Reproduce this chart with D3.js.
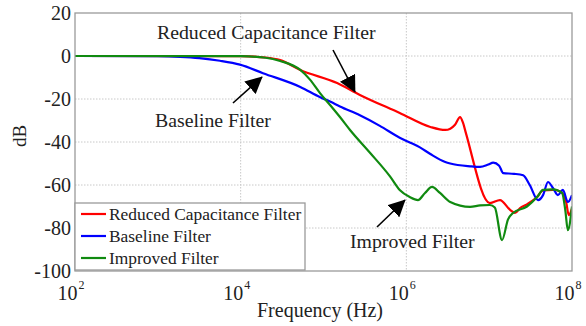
<!DOCTYPE html>
<html>
<head>
<meta charset="utf-8">
<script src="https://cdn.jsdelivr.net/npm/d3@7"></script>
<style>
  html, body { margin: 0; padding: 0; background: #fff; }
  svg { display: block; }
  text { font-family: "Liberation Serif", "Times New Roman", serif; fill: #222; }
</style>
</head>
<body>
<svg id="chart" width="586" height="326"></svg>
<script>
// Frequency response of three EMI filter designs (Hz, dB)
const reducedFreq = [1e2, 1e4, 2e4, 3e4, 5.25e4, 1.46e5, 2.75e5, 8.32e5, 1.95e6, 2.95e6, 3.39e6, 3.87e6, 4.45e6, 4.83e6, 5.25e6, 1.02e7, 1.35e7, 1.79e7, 2.05e7, 2.36e7, 2.86e7, 3.79e7, 4.47e7, 5.89e7, 7.24e7, 8.51e7, 9.12e7, 1e8];
const reducedDb   = [0, -0.1, -0.7, -1.9, -6.5, -12.6, -18.1, -26.5, -33, -34.4, -33.8, -32, -28.4, -31, -36, -68.4, -67, -71.6, -73, -70.7, -69, -65.6, -62.5, -62.3, -63, -68, -74, -71];

const baselineFreq = [1e2, 1e3, 1.86e3, 3.16e3, 5.62e3, 9.8e3, 1.86e4, 5.25e4, 9.12e4, 1.2e5, 1.58e5, 2.75e5, 4.79e5, 8.32e5, 1.1e6, 1.46e6, 1.95e6, 2.95e6, 3.39e6, 5.89e6, 7.76e6, 9.77e6, 1.12e7, 1.32e7, 1.48e7, 2.0e7, 2.57e7, 3.09e7, 3.89e7, 4.47e7, 5.13e7, 5.89e7, 6.76e7, 7.76e7, 8.91e7, 1e8];
const baselineDb   = [0, -0.1, -0.4, -1.0, -2.2, -4.0, -8.0, -14.4, -19.2, -21.2, -23.5, -27.6, -32.5, -38, -40.2, -42.5, -45.6, -49.3, -50, -51.3, -51.6, -50.5, -49.6, -51, -54.5, -54.8, -55.5, -60, -67, -64.7, -58.6, -61.4, -64.7, -62.3, -67.9, -64.7];

const improvedFreq = [1e2, 1e4, 2e4, 3e4, 5.25e4, 6.87e4, 9.12e4, 1.2e5, 1.58e5, 2.09e5, 3.64e5, 6.35e5, 8.32e5, 1.1e6, 1.38e6, 1.68e6, 2.04e6, 2.55e6, 3.39e6, 5.89e6, 7.76e6, 1.02e7, 1.17e7, 1.43e7, 1.69e7, 1.94e7, 2.86e7, 3.79e7, 4.47e7, 5.89e7, 7.59e7, 8.32e7, 8.91e7, 1e8];
const improvedDb   = [0, -0.1, -0.8, -2.3, -6.5, -11, -17.4, -22.8, -28.4, -34.4, -45, -56, -62.3, -65.6, -67, -63.7, -60.9, -63.7, -67.9, -70.2, -69.5, -69.3, -70.5, -85.6, -76, -73, -70, -65.6, -62.3, -62, -63.7, -72, -81, -70];

const seriesNames  = ["Reduced Capacitance Filter", "Baseline Filter", "Improved Filter"];
const seriesColors = ["#ff0000", "#0000ff", "#108a10"];

const xTickExps = [2, 4, 6, 8];
const yTicks = [-100, -80, -60, -40, -20, 0, 20];

const series = [
  { name: seriesNames[0], color: seriesColors[0], f: reducedFreq,  db: reducedDb },
  { name: seriesNames[1], color: seriesColors[1], f: baselineFreq, db: baselineDb },
  { name: seriesNames[2], color: seriesColors[2], f: improvedFreq, db: improvedDb }
];

const svg = d3.select("#chart");
const L = 75, R = 572, T = 13, B = 271;

const x = d3.scaleLog().domain([1e2, 1e8]).range([L, R]);
const y = d3.scaleLinear().domain([-100, 20]).range([B, T]);

// grid
const grid = svg.append("g");
grid.selectAll("line.gy").data(yTicks.filter(v => v > -100 && v < 20)).join("line")
  .attr("x1", L).attr("x2", R).attr("y1", d => y(d)).attr("y2", d => y(d))
  .attr("stroke", "#c8c8c8").attr("stroke-width", 1).attr("stroke-dasharray", "1.5,1.5");
grid.selectAll("line.gx").data(xTickExps.slice(1, -1)).join("line")
  .attr("x1", d => x(Math.pow(10, d))).attr("x2", d => x(Math.pow(10, d)))
  .attr("y1", T).attr("y2", B)
  .attr("stroke", "#c8c8c8").attr("stroke-width", 1).attr("stroke-dasharray", "1.5,1.5");

// curves
svg.append("clipPath").attr("id", "plotClip").append("rect")
  .attr("x", L).attr("y", T).attr("width", R - L).attr("height", B - T);

const line = d3.line()
  .x(d => x(d[0])).y(d => y(d[1]))
  .curve(d3.curveMonotoneX);

svg.append("g").attr("clip-path", "url(#plotClip)")
  .selectAll("path").data(series).join("path")
  .attr("d", s => line(s.f.map((f, i) => [f, s.db[i]])))
  .attr("fill", "none")
  .attr("stroke", s => s.color)
  .attr("stroke-width", 2.2)
  .attr("stroke-linejoin", "round");

// frame
svg.append("rect").attr("x", L).attr("y", T).attr("width", R - L).attr("height", B - T)
  .attr("fill", "none").attr("stroke", "#9a9a9a").attr("stroke-width", 1.3);

// y axis labels
svg.append("g").selectAll("text").data(yTicks).join("text")
  .attr("x", L - 4).attr("y", d => y(d) + 7)
  .attr("text-anchor", "end").attr("font-size", 20)
  .text(d => d);

// x axis labels: 10 with superscript exponent
const xl = svg.append("g").selectAll("text").data(xTickExps).join("text")
  .attr("x", d => x(Math.pow(10, d)) - 4).attr("y", 300)
  .attr("text-anchor", "middle").attr("font-size", 20);
xl.append("tspan").text("10");
xl.append("tspan").attr("font-size", 12).attr("dy", -11).attr("dx", 1).text(d => d);

// axis titles
svg.append("text").attr("x", 320).attr("y", 317).attr("text-anchor", "middle")
  .attr("font-size", 20).text("Frequency (Hz)");
svg.append("text").attr("transform", "translate(26,136) rotate(-90)")
  .attr("text-anchor", "middle").attr("font-size", 19).text("dB");

// legend
const lg = svg.append("g");
lg.append("rect").attr("x", L).attr("y", 203).attr("width", 230).attr("height", 67)
  .attr("fill", "#fff").attr("stroke", "#9a9a9a").attr("stroke-width", 1.3);
const rows = lg.selectAll("g.row").data(series).join("g")
  .attr("transform", (d, i) => `translate(0,${214 + i * 22})`);
rows.append("line").attr("x1", 81).attr("x2", 106).attr("y1", 0).attr("y2", 0)
  .attr("stroke", d => d.color).attr("stroke-width", 2.2);
rows.append("text").attr("x", 109).attr("y", 5.5).attr("font-size", 17.4).text(d => d.name);

// annotations with arrows
svg.append("defs").append("marker")
  .attr("id", "head").attr("viewBox", "0 0 10 10").attr("refX", 9.5).attr("refY", 5)
  .attr("markerWidth", 17).attr("markerHeight", 17).attr("markerUnits", "userSpaceOnUse")
  .attr("orient", "auto")
  .append("path").attr("d", "M0,0 L10,5 L0,10 Z").attr("fill", "#000");

const notes = [
  { text: seriesNames[0], tx: 157, ty: 39, x1: 333, y1: 50, x2: 355, y2: 92 },
  { text: seriesNames[1], tx: 155, ty: 127, x1: 233, y1: 103, x2: 262, y2: 77 },
  { text: seriesNames[2], tx: 350, ty: 248, x1: 377, y1: 227, x2: 405, y2: 200 }
];
notes.forEach(n => {
  svg.append("text").attr("x", n.tx).attr("y", n.ty).attr("font-size", 19.8).attr("fill", "#222").text(n.text);
  svg.append("line").attr("x1", n.x1).attr("y1", n.y1).attr("x2", n.x2).attr("y2", n.y2)
    .attr("stroke", "#000").attr("stroke-width", 1.6).attr("marker-end", "url(#head)");
});
</script>
</body>
</html>
